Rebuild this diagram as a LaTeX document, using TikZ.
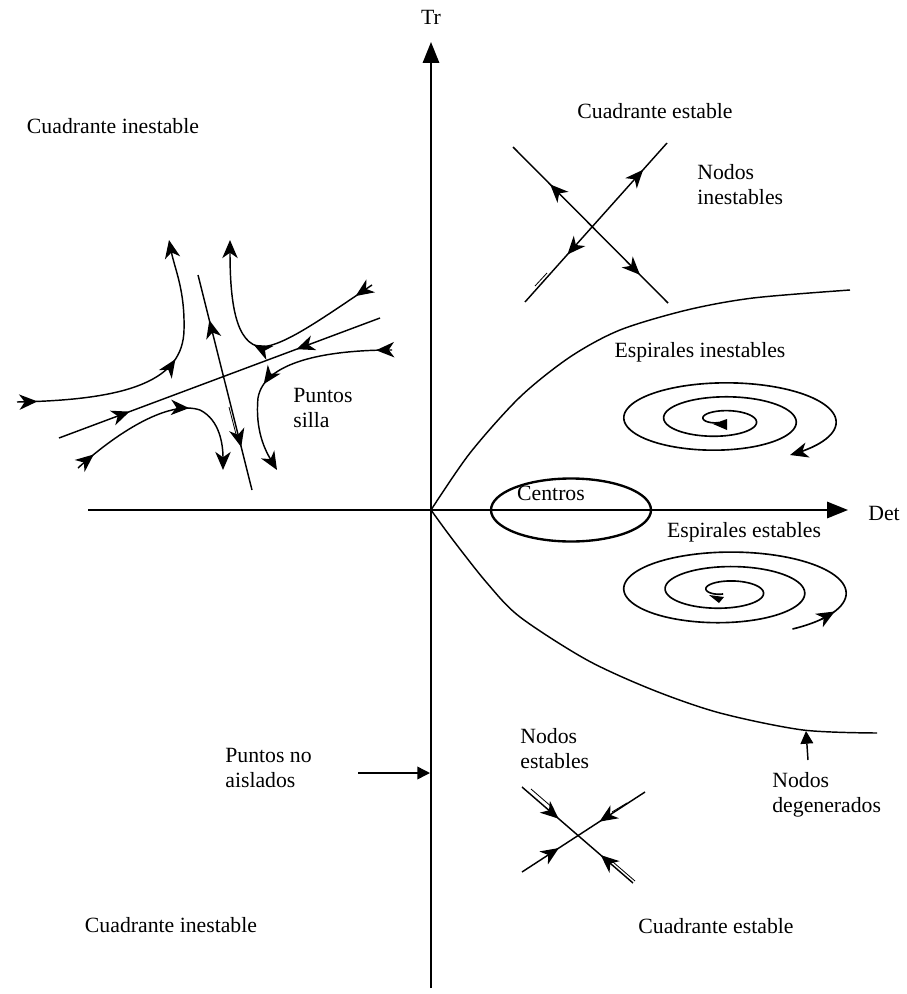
\documentclass[tikz,border=0pt]{standalone}
\usepackage{fontspec}
\setmainfont{Liberation Serif}
\usetikzlibrary{arrows.meta,decorations.markings}
\begin{document}
\begin{tikzpicture}[x=0.552pt,y=-0.552pt,
  font=\fontsize{12}{13.8}\selectfont,
  sad/.tip={Stealth[length=10pt,width=8.5pt,inset=3pt]},
  axtip/.tip={Triangle[length=11.5pt,width=9pt]},
  smalltip/.tip={Triangle[length=7pt,width=7pt]},
  axisline/.style={line width=1pt},
  crv/.style={line width=0.8pt},
  spir/.style={line width=0.9pt},
  thinl/.style={line width=0.45pt},
  fwd/.style={postaction={decorate,decoration={markings,mark=at position #1 with {\arrow{sad}}}}},
  bwd/.style={postaction={decorate,decoration={markings,mark=at position #1 with {\arrowreversed{sad}}}}},
  lbl/.style={inner sep=0pt},
  lbll/.style={inner sep=0pt,align=left,anchor=west}]
\useasboundingbox (0,0) rectangle (906,994);

% axes
\coordinate (O) at (431,510);
\coordinate (ybot) at (431,988);
\coordinate (ytop) at (431,42);
\coordinate (xleft) at (88,510);
\coordinate (xright) at (848,510);
\draw[axisline,-{axtip}] (ybot) -- (ytop);
\draw[axisline,-{axtip}] (xleft) -- (xright);
\node[lbl] (tr) at (431,17) {Tr};
\node[lbl] (det) at (884,513) {Det};

% parabola
\draw[crv] plot[smooth] coordinates {(431,510) (470,453) (520,397) (570,357) (620,330) (687,310) (753,298) (850,290)};
\draw[crv] plot[smooth] coordinates {(431,510) (453,540) (487,583) (520,617) (587,660) (653,690) (720,713) (803,730) (877,733)};

% centros
\draw[line width=1.3pt] (571,510) ellipse [x radius=80, y radius=31.5];
\node[lbl] (centros) at (551,493) {Centros};

% unstable node (top right)
\draw[crv,bwd=0.24,fwd=0.82] (513,147) -- (668,303);
\draw[crv,bwd=0.30,fwd=0.835] (525,302) -- (667,143);
\draw[thinl] (535,286) -- (547,273);
\node[lbll] (nodinest) at (697,185) {Nodos\\inestables};

% stable node (bottom)
\draw[crv,fwd=0.33,bwd=0.71] (522,787) -- (633,883);
\draw[crv,fwd=0.30,bwd=0.63] (522,872) -- (645,792);
\draw[thinl] (531,789) -- (553,808);
\draw[thinl] (613,862) -- (635,881);
\draw[thinl] (612,812) -- (627,803);
\node[lbll] (nodest) at (520,749) {Nodos\\estables};

% saddle
\draw[crv,fwd=0.22,bwd=0.74] (59,438) -- (380,318);
\draw[crv,bwd=0.21,fwd=0.80] (198,275) -- (252,490);
\draw[thinl] (229,407) -- (237,438);
\draw[crv,-{sad},fwd=0.07,fwd=0.58] (17,402) .. controls (130,400) and (183,380) .. (184,330) .. controls (185,290) and (175,270) .. (169,240);
\draw[crv,-{sad},fwd=0.08,fwd=0.55] (372,285) .. controls (320,320) and (285,345) .. (262,347) .. controls (235,345) and (230,300) .. (230,240);
\draw[crv,-{sad},fwd=0.07,fwd=0.60] (392,350) .. controls (325,350) and (264,362) .. (258,398) .. controls (255,430) and (265,450) .. (277,470);
\draw[crv,-{sad},fwd=0.10,fwd=0.62] (78,468) .. controls (120,430) and (170,400) .. (200,410) .. controls (220,420) and (223,445) .. (223,470);
\node[lbll] (silla) at (293,408) {Puntos\\silla};

% spirals
\draw[spir,-{sad}] plot[variable=\t,domain=100:1135,samples=300,smooth] ({720+(\t/9-4)*cos(\t)},{420+0.35*(\t/9-4)*sin(\t)});
\fill (713,424) -- (727,419) -- (727,430) -- cycle;
\node[lbl] (espinest) at (700,352) {Espirales inestables};

\draw[spir] plot[variable=\t,domain=100:1138,samples=300,smooth] ({724.6+(0.1153*\t-3.1)*cos(\t)},{591+0.35*(0.1153*\t-3.1)*sin(\t)});
\draw[spir,-{sad}] (821.1,619.3) -- (834.7,611.5);
\fill (709,595) -- (724,597) -- (719,603) -- cycle;
\node[lbl] (espest) at (744,532) {Espirales estables};

% degenerate nodes
\coordinate (degtail) at (808,760);
\coordinate (deghead) at (806,731);
\draw[crv,-{smalltip}] (degtail) -- (deghead);
\node[lbll] (degen) at (772,795) {Nodos\\degenerados};

% non isolated points
\coordinate (natail) at (358,773);
\coordinate (nahead) at (430,773);
\draw[crv,-{smalltip}] (natail) -- (nahead);
\node[lbll] (noais) at (225,768) {Puntos no\\aislados};

% quadrant labels
\node[lbl] (q1) at (113,126) {Cuadrante inestable};
\node[lbl] (q2) at (655,111) {Cuadrante estable};
\node[lbl] (q3) at (171,925) {Cuadrante inestable};
\node[lbl] (q4) at (716,926) {Cuadrante estable};
\end{tikzpicture}
\end{document}
